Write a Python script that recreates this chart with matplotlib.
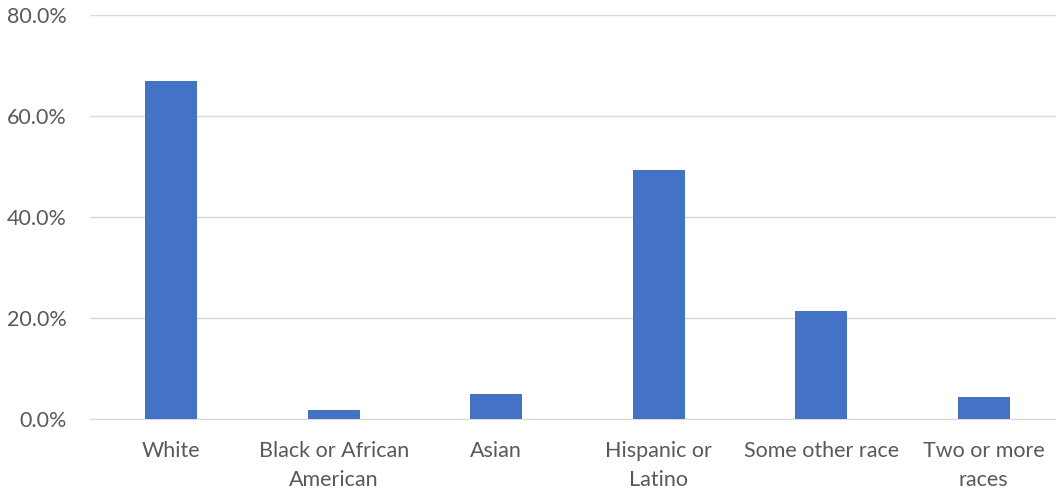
import matplotlib
matplotlib.use("Agg")
import matplotlib.pyplot as plt
from matplotlib.ticker import FuncFormatter

# data
categories = ["White", "Black or African\nAmerican", "Asian", "Hispanic or\nLatino",
              "Some other race", "Two or more\nraces"]
shares = [66.9, 1.8, 5.0, 49.3, 21.4, 4.4]
yticks = [0, 20, 40, 60, 80]

plt.rcParams["font.family"] = ["Lato", "DejaVu Sans"]

fig = plt.figure(figsize=(10.56, 4.93), dpi=100)
ax = fig.add_axes([90 / 1056, 1 - 419 / 493, 975 / 1056, 404 / 493])

x = range(len(categories))
ax.bar(x, shares, width=0.32, color="#4472C4", zorder=3)

ax.set_xlim(-0.5, len(categories) - 0.5)
ax.set_ylim(0, 80)
ax.set_yticks(yticks)
ax.yaxis.set_major_formatter(FuncFormatter(lambda v, p: f"{v:.1f}%"))
ax.set_xticks(list(x))
ax.set_xticklabels(categories, linespacing=1.55)

ax.grid(axis="y", color="#D9D9D9", linewidth=1, zorder=0)
for s in ["top", "right", "left"]:
    ax.spines[s].set_visible(False)
ax.spines["bottom"].set_color("#D9D9D9")
ax.tick_params(axis="both", length=0, labelsize=15.5, labelcolor="#595959")
ax.tick_params(axis="x", pad=16)
ax.tick_params(axis="y", pad=17)

fig.savefig("out.png", dpi=100)
